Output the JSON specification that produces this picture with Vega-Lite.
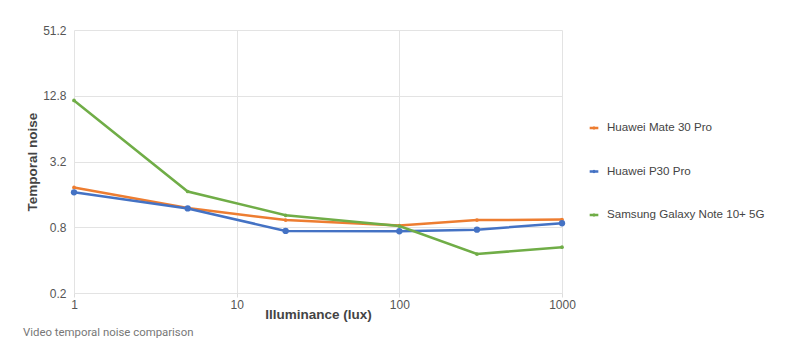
{
  "$schema": "https://vega.github.io/schema/vega-lite/v6.json",
  "width": 488,
  "height": 263,
  "autosize": "none",
  "padding": {"left": 74, "top": 30, "right": 236, "bottom": 70},
  "background": "white",
  "config": {
    "font": "Liberation Sans",
    "view": {"stroke": null}
  },
  "title": {
    "text": "Video temporal noise comparison",
    "orient": "bottom",
    "anchor": "start",
    "frame": "group",
    "dx": -51,
    "offset": 6,
    "font": "Roboto",
    "fontSize": 11.4,
    "fontWeight": "normal",
    "color": "#777777"
  },
  "data": {
    "values": [
      {"lux": 1, "series": "Huawei Mate 30 Pro", "noise": 1.85},
      {"lux": 5, "series": "Huawei Mate 30 Pro", "noise": 1.2},
      {"lux": 20, "series": "Huawei Mate 30 Pro", "noise": 0.93},
      {"lux": 100, "series": "Huawei Mate 30 Pro", "noise": 0.83},
      {"lux": 300, "series": "Huawei Mate 30 Pro", "noise": 0.93},
      {"lux": 1000, "series": "Huawei Mate 30 Pro", "noise": 0.94},
      {"lux": 1, "series": "Huawei P30 Pro", "noise": 1.67},
      {"lux": 5, "series": "Huawei P30 Pro", "noise": 1.19},
      {"lux": 20, "series": "Huawei P30 Pro", "noise": 0.74},
      {"lux": 100, "series": "Huawei P30 Pro", "noise": 0.735},
      {"lux": 300, "series": "Huawei P30 Pro", "noise": 0.76},
      {"lux": 1000, "series": "Huawei P30 Pro", "noise": 0.87},
      {"lux": 1, "series": "Samsung Galaxy Note 10+ 5G", "noise": 11.6},
      {"lux": 5, "series": "Samsung Galaxy Note 10+ 5G", "noise": 1.7},
      {"lux": 20, "series": "Samsung Galaxy Note 10+ 5G", "noise": 1.03},
      {"lux": 100, "series": "Samsung Galaxy Note 10+ 5G", "noise": 0.82},
      {"lux": 300, "series": "Samsung Galaxy Note 10+ 5G", "noise": 0.455},
      {"lux": 1000, "series": "Samsung Galaxy Note 10+ 5G", "noise": 0.525}
    ]
  },
  "encoding": {
    "x": {
      "field": "lux",
      "type": "quantitative",
      "scale": {"type": "log", "domain": [1, 1000], "nice": false},
      "axis": {
        "values": [1, 10, 100, 1000],
        "format": "d",
        "title": "Illuminance (lux)",
        "titleFontSize": 13.5,
        "titleFontWeight": "bold",
        "titleColor": "#444444",
        "titlePadding": -3,
        "labelFontSize": 12,
        "labelColor": "#555555",
        "labelPadding": 2,
        "domain": false,
        "ticks": true,
        "tickSize": 4,
        "tickColor": "#dddddd",
        "gridColor": "#e3e3e3",
        "labelFlush": false
      }
    },
    "y": {
      "field": "noise",
      "type": "quantitative",
      "scale": {"type": "log", "base": 4, "domain": [0.2, 51.2], "nice": false},
      "axis": {
        "values": [0.2, 0.8, 3.2, 12.8, 51.2],
        "title": "Temporal noise",
        "titleFontSize": 13.5,
        "titleFontWeight": "bold",
        "titleColor": "#444444",
        "titlePadding": 3,
        "labelFontSize": 12,
        "labelColor": "#555555",
        "labelPadding": 8,
        "domain": false,
        "ticks": false,
        "gridColor": "#e3e3e3"
      }
    },
    "color": {
      "field": "series",
      "type": "nominal",
      "scale": {
        "domain": ["Huawei Mate 30 Pro", "Huawei P30 Pro", "Samsung Galaxy Note 10+ 5G"],
        "range": ["#ED7D31", "#4472C4", "#70AD47"]
      },
      "legend": {
        "title": null,
        "orient": "none",
        "legendX": 510,
        "legendY": 88,
        "labelFontSize": 11.6,
        "labelColor": "#444444",
        "labelLimit": 300,
        "rowPadding": 27.5,
        "labelOffset": 3,
        "padding": 0,
        "symbolType": "M-0.5,0H0.5M0.06,0A0.06,0.06,0,1,1,-0.06,0A0.06,0.06,0,1,1,0.06,0",
        "symbolSize": 300,
        "symbolStrokeWidth": 2.5,
        "symbolOpacity": 1
      }
    }
  },
  "layer": [
    {"mark": {"type": "line", "strokeWidth": 2.5}},
    {
      "transform": [{"filter": "datum.series !== 'Huawei P30 Pro'"}],
      "mark": {"type": "circle", "size": 14, "opacity": 1}
    },
    {
      "transform": [{"filter": "datum.series === 'Huawei P30 Pro'"}],
      "mark": {"type": "circle", "size": 40, "opacity": 1}
    }
  ]
}
